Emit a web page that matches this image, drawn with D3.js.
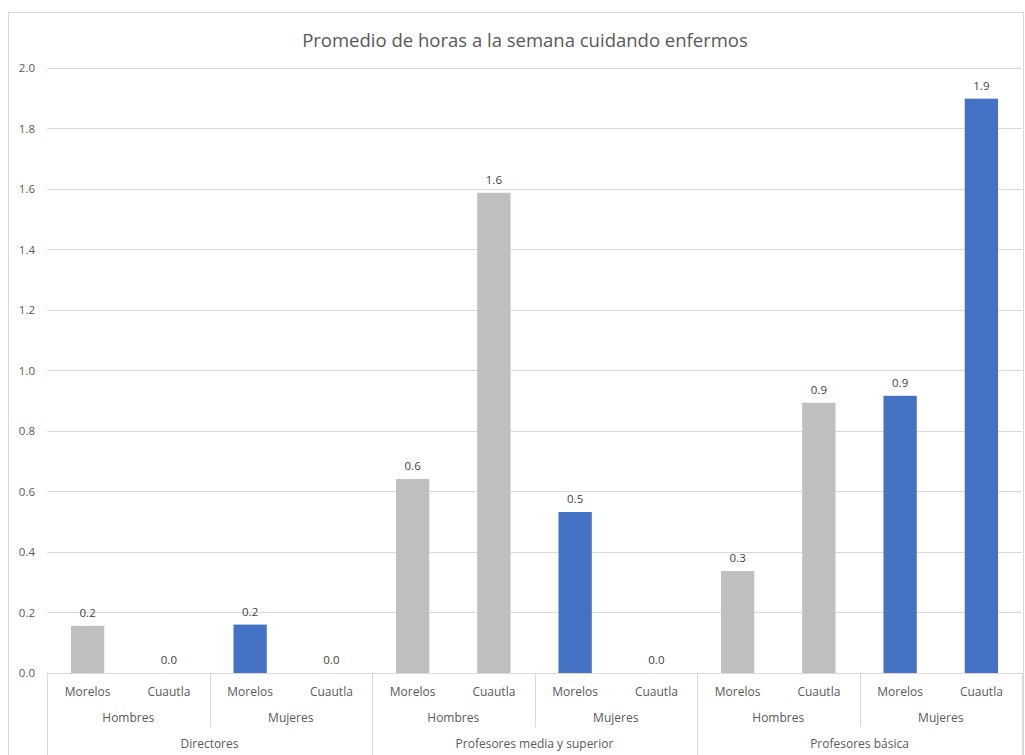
<!DOCTYPE html>
<html>
<head>
<meta charset="utf-8">
<script src="https://cdn.jsdelivr.net/npm/d3@7"></script>
<style>
  html, body { margin: 0; padding: 0; background: #fff; }
  svg { display: block; font-family: "Open Sans", "Noto Sans", sans-serif; }
</style>
</head>
<body>
<svg id="chart" width="1025" height="755"></svg>
<script>
// Three-level category axis: group > sex > location
const groups = ["Directores", "Profesores media y superior", "Profesores básica"];
const sexes = ["Hombres", "Mujeres"];
const places = ["Morelos", "Cuautla"];

// Average weekly hours, in the order group > sex > place
const hours = [0.156, 0.0, 0.160, 0.0, 0.641, 1.587, 0.532, 0.0, 0.337, 0.893, 0.916, 1.898];

const yTicks = [0, 0.2, 0.4, 0.6, 0.8, 1.0, 1.2, 1.4, 1.6, 1.8, 2.0];
const title = "Promedio de horas a la semana cuidando enfermos";

const sexColor = { Hombres: "#bfbfbf", Mujeres: "#4472c4" };

const rows = [];
groups.forEach((g, gi) => sexes.forEach((s, si) => places.forEach((p, pi) => {
  const i = gi * 4 + si * 2 + pi;
  rows.push({ key: i, group: g, sex: s, place: p, value: hours[i] });
})));

const svg = d3.select("#chart");
const plotL = 47, plotR = 1022, plotT = 67.8, plotB = 673;

// chart frame
svg.append("rect").attr("x", 8.5).attr("y", 12.5).attr("width", 1015).attr("height", 760)
  .attr("fill", "none").attr("stroke", "#d9d9d9");

const x = d3.scaleBand().domain(rows.map(d => d.key)).range([plotL, plotR]).paddingInner(0.59).paddingOuter(0.295);
const y = d3.scaleLinear().domain([0, 2]).range([plotB, plotT]);

// gridlines
svg.append("g").selectAll("line").data(yTicks).join("line")
  .attr("x1", plotL).attr("x2", plotR)
  .attr("y1", d => Math.round(y(d)) + 0.5).attr("y2", d => Math.round(y(d)) + 0.5)
  .attr("stroke", "#d9d9d9").attr("stroke-width", 1);

// y axis labels
const yAxis = d3.axisLeft(y).tickValues(yTicks).tickFormat(d3.format(".1f")).tickSize(0).tickPadding(12);
const ya = svg.append("g").attr("transform", `translate(${plotL},0)`).call(yAxis);
ya.select(".domain").remove();
ya.selectAll("text").attr("fill", "#595959").style("font-size", "11.5px").style("font-family", "'Open Sans', sans-serif");

// bars
svg.append("g").selectAll("rect").data(rows).join("rect")
  .attr("x", d => x(d.key)).attr("width", x.bandwidth())
  .attr("y", d => y(d.value)).attr("height", d => y(0) - y(d.value))
  .attr("fill", d => sexColor[d.sex]);

// value labels
svg.append("g").selectAll("text").data(rows).join("text")
  .attr("x", d => x(d.key) + x.bandwidth() / 2)
  .attr("y", d => y(d.value) - 9)
  .attr("text-anchor", "middle")
  .attr("fill", "#404040").style("font-size", "11.5px")
  .text(d => d3.format(".1f")(d.value));

// category axis: place / sex / group
const slotW = (plotR - plotL) / rows.length;
const slotStart = i => plotL + i * slotW;
const cat = svg.append("g").attr("fill", "#595959").style("font-size", "12px");

cat.selectAll("text.place").data(rows).join("text").attr("class", "place")
  .attr("x", d => slotStart(d.key) + slotW / 2).attr("y", 696)
  .attr("text-anchor", "middle").text(d => d.place);

const sexCells = [];
groups.forEach((g, gi) => sexes.forEach((s, si) => sexCells.push({ i: gi * 2 + si, label: s })));
cat.selectAll("text.sex").data(sexCells).join("text").attr("class", "sex")
  .attr("x", d => slotStart(d.i * 2) + slotW).attr("y", 722)
  .attr("text-anchor", "middle").text(d => d.label);

cat.selectAll("text.grp").data(groups).join("text").attr("class", "grp")
  .attr("x", (d, i) => slotStart(i * 4) + slotW * 2).attr("y", 748)
  .attr("text-anchor", "middle").text(d => d);

// divider lines
const dividers = svg.append("g").attr("stroke", "#d9d9d9").attr("stroke-width", 1);
d3.range(0, 13, 2).forEach(k => {
  const xx = Math.round(slotStart(k)) + 0.5;
  const full = k % 4 === 0;
  dividers.append("line").attr("x1", xx).attr("x2", xx)
    .attr("y1", plotB).attr("y2", full ? 756 : 727);
});

// title
svg.append("text").attr("x", 525).attr("y", 47).attr("text-anchor", "middle")
  .attr("fill", "#595959").style("font-size", "18.5px").text(title);
</script>
</body>
</html>
